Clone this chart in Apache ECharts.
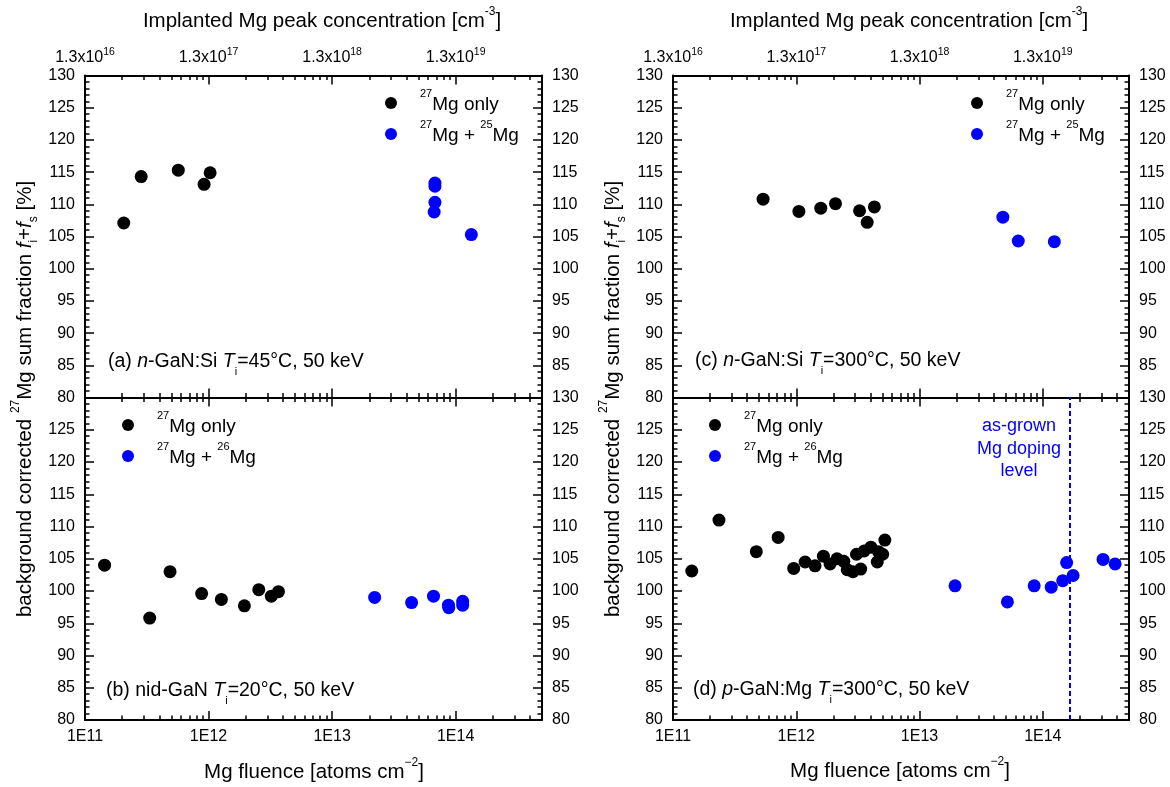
<!DOCTYPE html>
<html>
<head>
<meta charset="utf-8">
<script src="https://cdn.jsdelivr.net/npm/echarts@6/dist/echarts.min.js"></script>
<style>
  html, body { margin: 0; padding: 0; background: #fff; }
  #chart { width: 1170px; height: 787px; }
</style>
</head>
<body>
<div id="chart"></div>
<script>
// ---- Axis ticks ----
const fluenceMin = 1e11;
const fluenceMax = 5e14;
const fluenceTicks = [1e11, 1e12, 1e13, 1e14];
const fluenceLabels = ['1E11', '1E12', '1E13', '1E14'];
const concMantissa = '1.3x10';
const concExponents = ['16', '17', '18', '19'];
const fracMin = 80;
const fracMax = 130;
const fracStep = 5;

// ---- (a) n-GaN:Si, Ti = 45 °C ----
const aOnlyFluence = [2.06e11, 2.85e11, 5.69e11, 9.2e11, 1.03e12];
const aOnlyFrac    = [107.1, 114.3, 115.3, 113.1, 114.9];
const aPlusFluence = [6.8e13, 6.8e13, 6.8e13, 6.7e13, 1.34e14];
const aPlusFrac    = [113.3, 112.8, 110.3, 108.8, 105.3];

// ---- (b) nid-GaN, Ti = 20 °C ----
const bOnlyFluence = [1.44e11, 3.34e11, 4.88e11, 8.79e11, 1.27e12, 1.95e12, 2.55e12, 3.22e12, 3.68e12];
const bOnlyFrac    = [104.0, 95.8, 103.0, 99.6, 98.7, 97.7, 100.2, 99.2, 99.9];
const bPlusFluence = [2.21e13, 4.4e13, 6.62e13, 8.75e13, 8.8e13, 1.14e14, 1.14e14];
const bPlusFrac    = [99.0, 98.2, 99.2, 97.8, 97.4, 98.4, 97.8];

// ---- (c) n-GaN:Si, Ti = 300 °C ----
const cOnlyFluence = [5.38e11, 1.05e12, 1.58e12, 2.08e12, 3.26e12, 3.76e12, 4.3e12];
const cOnlyFrac    = [110.8, 108.9, 109.4, 110.1, 109.0, 107.2, 109.6];
const cPlusFluence = [4.74e13, 6.32e13, 1.24e14];
const cPlusFrac    = [108.0, 104.3, 104.2];

// ---- (d) p-GaN:Mg, Ti = 300 °C ----
const dOnlyFluence = [1.42e11, 2.36e11, 4.74e11, 7.13e11, 9.53e11, 1.18e12, 1.42e12, 1.66e12, 1.88e12, 2.14e12, 2.43e12,
                      2.59e12, 2.88e12, 3.08e12, 3.33e12, 3.55e12, 4.03e12, 4.54e12, 4.64e12, 5.02e12, 5.23e12];
const dOnlyFrac    = [103.1, 111.0, 106.1, 108.3, 103.5, 104.5, 103.9, 105.4, 104.2, 105.0, 104.6,
                      103.3, 103.0, 105.7, 103.4, 106.2, 106.8, 104.5, 106.1, 105.7, 107.9];
const dPlusFluence = [1.94e13, 5.16e13, 8.51e13, 1.17e14, 1.45e14, 1.56e14, 1.76e14, 3.08e14, 3.86e14];
const dPlusFrac    = [100.8, 98.3, 100.8, 100.6, 101.6, 104.4, 102.4, 104.9, 104.2];
const dopingLevel  = 1.64e14;   // as-grown Mg doping level in the p-GaN:Mg sample

// ---- Styling ----
const FONT = "'Liberation Sans', Arial, Helvetica, sans-serif";
const BLACK = '#000000';
const BLUE = '#0000ff';

// minor ticks at 2..9 of every decade inside the fluence range
const fluenceMinor = [];
for (let e = 11; e <= 14; e++) {
  for (let m = 2; m <= 9; m++) {
    const v = m * Math.pow(10, e);
    if (v < fluenceMax) fluenceMinor.push(v);
  }
}

const zip = (xs, ys) => xs.map((x, i) => [x, ys[i]]);

const legendRich = {
  t:   { fontFamily: FONT, fontSize: 19, color: BLACK, lineHeight: 30, padding: [3, 0, 0, 0] },
  sup: { fontFamily: FONT, fontSize: 11, color: BLACK, lineHeight: 14, verticalAlign: 'top' }
};
const noteRich = {
  t:   { fontFamily: FONT, fontSize: 19.5, color: BLACK, lineHeight: 30 },
  i:   { fontFamily: FONT, fontSize: 19.5, color: BLACK, lineHeight: 30, fontStyle: 'italic' },
  sub: { fontFamily: FONT, fontSize: 11, color: BLACK, lineHeight: 10, verticalAlign: 'bottom' }
};
const titleRich = {
  t:   { fontFamily: FONT, fontSize: 20.5, color: BLACK, lineHeight: 30 },
  i:   { fontFamily: FONT, fontSize: 20.5, color: BLACK, lineHeight: 30, fontStyle: 'italic' },
  sup: { fontFamily: FONT, fontSize: 12, color: BLACK, lineHeight: 15, verticalAlign: 'top' },
  sub: { fontFamily: FONT, fontSize: 12, color: BLACK, lineHeight: 10, verticalAlign: 'bottom' }
};

const panels = [
  { id: 'a', grid: { left: 85, top: 75.5, width: 457, height: 322 }, row: 0,
    only: [aOnlyFluence, aOnlyFrac], plus: [aPlusFluence, aPlusFrac], iso: '25',
    legend: { left: 385, top: 88 },
    note: { x: 108, y: 362, text: '{t|(a) }{i|n}{t|-GaN:Si }{i|T}{sub|i}{t|=45°C, 50 keV}' } },
  { id: 'b', grid: { left: 85, top: 397.5, width: 457, height: 322.5 }, row: 1,
    only: [bOnlyFluence, bOnlyFrac], plus: [bPlusFluence, bPlusFrac], iso: '26',
    legend: { left: 122, top: 410 },
    note: { x: 106, y: 691, text: '{t|(b) nid-GaN }{i|T}{sub|i}{t|=20°C, 50 keV}' } },
  { id: 'c', grid: { left: 673, top: 75.5, width: 456, height: 322 }, row: 0,
    only: [cOnlyFluence, cOnlyFrac], plus: [cPlusFluence, cPlusFrac], iso: '25',
    legend: { left: 971, top: 88 },
    note: { x: 695, y: 361, text: '{t|(c) }{i|n}{t|-GaN:Si }{i|T}{sub|i}{t|=300°C, 50 keV}' } },
  { id: 'd', grid: { left: 673, top: 397.5, width: 456, height: 322.5 }, row: 1,
    only: [dOnlyFluence, dOnlyFrac], plus: [dPlusFluence, dPlusFrac], iso: '26',
    legend: { left: 709, top: 410 },
    note: { x: 693, y: 690, text: '{t|(d) }{i|p}{t|-GaN:Mg }{i|T}{sub|i}{t|=300°C, 50 keV}' } }
];

const grids = [], xAxes = [], yAxes = [], series = [], legends = [], graphics = [];

// fresh style objects for every axis
const axisLineOn = () => ({ show: true, onZero: false, lineStyle: { color: BLACK, width: 2 } });
const tickLine = () => ({ color: BLACK, width: 1.5 });

function decadeIndex(v) { return Math.round(Math.log10(v)) - 11; }

function logAxis(g, position, extra) {
  return Object.assign({
    type: 'log', logBase: 10, gridIndex: g, position: position,
    min: fluenceMin, max: fluenceMax,
    splitLine: { show: false }
  }, extra);
}

panels.forEach((p, g) => {
  grids.push(Object.assign({}, p.grid));

  // bottom: major ticks with labels (lower row only)
  xAxes.push(logAxis(g, 'bottom', {
    axisLine: axisLineOn(),
    axisTick: { show: true, inside: true, length: 9, lineStyle: tickLine(), customValues: fluenceTicks },
    axisLabel: { show: p.row === 1, customValues: fluenceTicks, margin: 7, color: BLACK,
                 fontFamily: FONT, fontSize: 16, lineHeight: 20,
                 formatter: v => fluenceLabels[decadeIndex(v)] }
  }));
  // bottom: minor ticks
  xAxes.push(logAxis(g, 'bottom', {
    axisLine: { show: false },
    axisTick: { show: true, inside: true, length: 4.5, lineStyle: tickLine(), customValues: fluenceMinor },
    axisLabel: { show: false }
  }));
  // top: major ticks, concentration labels on the upper row
  xAxes.push(logAxis(g, 'top', {
    axisLine: axisLineOn(),
    axisTick: { show: true, inside: true, length: 9, lineStyle: tickLine(), customValues: fluenceTicks },
    axisLabel: { show: p.row === 0, customValues: fluenceTicks, margin: 7,
                 formatter: v => '{m|' + concMantissa + '}{e|' + concExponents[decadeIndex(v)] + '}',
                 rich: {
                   m: { fontFamily: FONT, fontSize: 16, color: BLACK, lineHeight: 22 },
                   e: { fontFamily: FONT, fontSize: 10.5, color: BLACK, lineHeight: 12, verticalAlign: 'top' }
                 } }
  }));
  // top: minor ticks
  xAxes.push(logAxis(g, 'top', {
    axisLine: { show: false },
    axisTick: { show: true, inside: true, length: 4.5, lineStyle: tickLine(), customValues: fluenceMinor },
    axisLabel: { show: false }
  }));

  const yAxis = (position, hideValue) => ({
    type: 'value', gridIndex: g, position: position,
    min: fracMin, max: fracMax, interval: fracStep,
    axisLine: axisLineOn(),
    splitLine: { show: false },
    axisTick: { show: true, inside: true, length: 9, lineStyle: tickLine() },
    minorTick: { show: true, splitNumber: 5, length: 4.5, lineStyle: tickLine() },
    axisLabel: { color: BLACK, fontFamily: FONT, fontSize: 16, margin: 10,
                 formatter: v => v === hideValue ? '' : String(v) }
  });
  // left axis: the lower panels leave their top value to the upper panel
  yAxes.push(yAxis('left', p.row === 1 ? fracMax : null));
  // right axis: the upper panels leave their bottom value to the lower panel
  yAxes.push(yAxis('right', p.row === 0 ? fracMin : null));

  const onlyName = p.id + '-only';
  const plusName = p.id + '-plus';
  const common = { type: 'scatter', xAxisIndex: 4 * g, yAxisIndex: 2 * g, symbol: 'circle', symbolSize: 13,
                   emphasis: { disabled: true }, silent: true, z: 3 };
  series.push(Object.assign({}, common, {
    name: onlyName, data: zip(p.only[0], p.only[1]),
    itemStyle: { color: BLACK, opacity: 1, borderWidth: 0 }
  }));
  const plusSeries = Object.assign({}, common, {
    name: plusName, data: zip(p.plus[0], p.plus[1]),
    itemStyle: { color: BLUE, opacity: 1, borderWidth: 0 }
  });
  if (p.id === 'd') {
    plusSeries.markLine = {
      silent: true, symbol: ['none', 'none'], label: { show: false },
      lineStyle: { color: BLUE, width: 2, type: [5, 3] },
      emphasis: { disabled: true },
      data: [{ xAxis: dopingLevel }]
    };
  }
  series.push(plusSeries);

  legends.push({
    data: [onlyName, plusName], orient: 'vertical', left: p.legend.left, top: p.legend.top,
    itemWidth: 48, itemHeight: 12, itemGap: 5, icon: 'circle', selectedMode: false, padding: 0,
    formatter: name => name === onlyName ? '{sup|27}{t|Mg only}' : '{sup|27}{t|Mg + }{sup|' + p.iso + '}{t|Mg}',
    textStyle: { rich: legendRich }
  });

  graphics.push({
    type: 'text', x: p.note.x, y: p.note.y, silent: true,
    style: { text: p.note.text, rich: noteRich, align: 'left', verticalAlign: 'middle' }
  });
});

// axis titles for the left and right figure
[{ cx: 322, ty: 21, bx: 314, by: 772, yx: 25 },
 { cx: 909, ty: 21, bx: 900, by: 771, yx: 613 }].forEach(f => {
  graphics.push({
    type: 'text', x: f.cx, y: f.ty, silent: true,
    style: { text: '{t|Implanted Mg peak concentration [cm}{sup|-3}{t|]}', rich: titleRich,
             align: 'center', verticalAlign: 'middle' }
  });
  graphics.push({
    type: 'text', x: f.bx, y: f.by, silent: true,
    style: { text: '{t|Mg fluence [atoms cm}{sup|−2}{t|]}', rich: titleRich,
             align: 'center', verticalAlign: 'middle' }
  });
  graphics.push({
    type: 'text', x: f.yx, y: 399, rotation: Math.PI / 2, silent: true,
    style: { text: '{t|background corrected }{sup|27}{t|Mg sum fraction }{i|f}{sub|i}{t|+}{i|f}{sub|s}{t| [%]}',
             rich: titleRich, align: 'center', verticalAlign: 'middle' }
  });
});

// label beside the doping-level marker
graphics.push({
  type: 'text', x: 1019, y: 449, silent: true,
  style: { text: 'as-grown\nMg doping\nlevel', fill: BLUE, fontFamily: FONT, fontSize: 18, lineHeight: 22.5,
           align: 'center', verticalAlign: 'middle' }
});

const chart = echarts.init(document.getElementById('chart'));
chart.setOption({
  backgroundColor: '#ffffff',
  animation: false,
  textStyle: { fontFamily: FONT },
  grid: grids,
  xAxis: xAxes,
  yAxis: yAxes,
  legend: legends,
  series: series,
  graphic: graphics
});
</script>
</body>
</html>
